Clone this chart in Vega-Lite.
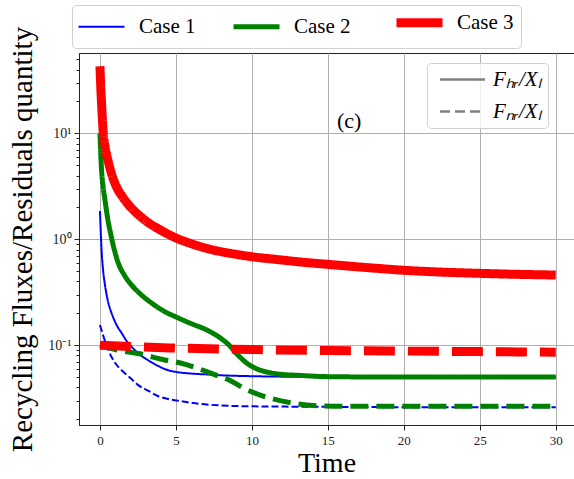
{
  "$schema": "https://vega.github.io/schema/vega-lite/v6.json",
  "autosize": {"type": "none"},
  "padding": {"left": 79, "top": 53, "right": 0, "bottom": 54},
  "width": 495,
  "height": 372,
  "background": "white",
  "config": {
    "view": {"stroke": "#222222", "strokeWidth": 1},
    "font": "Liberation Serif"
  },
  "datasets": {
    "curves": [
      {"case": "Case 1", "type": "HR", "series": "Case 1 HR", "t": 0, "v": 1.85},
      {"case": "Case 1", "type": "HR", "series": "Case 1 HR", "t": 0.1, "v": 0.82},
      {"case": "Case 1", "type": "HR", "series": "Case 1 HR", "t": 0.2, "v": 0.52},
      {"case": "Case 1", "type": "HR", "series": "Case 1 HR", "t": 0.33, "v": 0.37},
      {"case": "Case 1", "type": "HR", "series": "Case 1 HR", "t": 0.5, "v": 0.27},
      {"case": "Case 1", "type": "HR", "series": "Case 1 HR", "t": 0.77, "v": 0.2},
      {"case": "Case 1", "type": "HR", "series": "Case 1 HR", "t": 1.1, "v": 0.155},
      {"case": "Case 1", "type": "HR", "series": "Case 1 HR", "t": 1.43, "v": 0.13},
      {"case": "Case 1", "type": "HR", "series": "Case 1 HR", "t": 1.75, "v": 0.11},
      {"case": "Case 1", "type": "HR", "series": "Case 1 HR", "t": 2.08, "v": 0.097},
      {"case": "Case 1", "type": "HR", "series": "Case 1 HR", "t": 2.6, "v": 0.082},
      {"case": "Case 1", "type": "HR", "series": "Case 1 HR", "t": 3.18, "v": 0.072},
      {"case": "Case 1", "type": "HR", "series": "Case 1 HR", "t": 3.8, "v": 0.064},
      {"case": "Case 1", "type": "HR", "series": "Case 1 HR", "t": 4.5, "v": 0.058},
      {"case": "Case 1", "type": "HR", "series": "Case 1 HR", "t": 5, "v": 0.056},
      {"case": "Case 1", "type": "HR", "series": "Case 1 HR", "t": 6, "v": 0.054},
      {"case": "Case 1", "type": "HR", "series": "Case 1 HR", "t": 7, "v": 0.053},
      {"case": "Case 1", "type": "HR", "series": "Case 1 HR", "t": 8, "v": 0.052},
      {"case": "Case 1", "type": "HR", "series": "Case 1 HR", "t": 10, "v": 0.051},
      {"case": "Case 1", "type": "HR", "series": "Case 1 HR", "t": 12, "v": 0.0505},
      {"case": "Case 1", "type": "HR", "series": "Case 1 HR", "t": 15, "v": 0.05},
      {"case": "Case 1", "type": "HR", "series": "Case 1 HR", "t": 20, "v": 0.05},
      {"case": "Case 1", "type": "HR", "series": "Case 1 HR", "t": 25, "v": 0.05},
      {"case": "Case 1", "type": "HR", "series": "Case 1 HR", "t": 30, "v": 0.05},
      {"case": "Case 1", "type": "NR", "series": "Case 1 NR", "t": 0, "v": 0.155},
      {"case": "Case 1", "type": "NR", "series": "Case 1 NR", "t": 0.2, "v": 0.125},
      {"case": "Case 1", "type": "NR", "series": "Case 1 NR", "t": 0.55, "v": 0.09},
      {"case": "Case 1", "type": "NR", "series": "Case 1 NR", "t": 1, "v": 0.068},
      {"case": "Case 1", "type": "NR", "series": "Case 1 NR", "t": 1.43, "v": 0.058},
      {"case": "Case 1", "type": "NR", "series": "Case 1 NR", "t": 2, "v": 0.049},
      {"case": "Case 1", "type": "NR", "series": "Case 1 NR", "t": 2.52, "v": 0.042},
      {"case": "Case 1", "type": "NR", "series": "Case 1 NR", "t": 3.2, "v": 0.037},
      {"case": "Case 1", "type": "NR", "series": "Case 1 NR", "t": 3.84, "v": 0.033},
      {"case": "Case 1", "type": "NR", "series": "Case 1 NR", "t": 4.5, "v": 0.031},
      {"case": "Case 1", "type": "NR", "series": "Case 1 NR", "t": 5.4, "v": 0.0295},
      {"case": "Case 1", "type": "NR", "series": "Case 1 NR", "t": 6.5, "v": 0.028},
      {"case": "Case 1", "type": "NR", "series": "Case 1 NR", "t": 8, "v": 0.027},
      {"case": "Case 1", "type": "NR", "series": "Case 1 NR", "t": 10, "v": 0.0265},
      {"case": "Case 1", "type": "NR", "series": "Case 1 NR", "t": 15, "v": 0.0262},
      {"case": "Case 1", "type": "NR", "series": "Case 1 NR", "t": 20, "v": 0.026},
      {"case": "Case 1", "type": "NR", "series": "Case 1 NR", "t": 30, "v": 0.026},
      {"case": "Case 2", "type": "HR", "series": "Case 2 HR", "t": 0, "v": 10},
      {"case": "Case 2", "type": "HR", "series": "Case 2 HR", "t": 0.05, "v": 6.5},
      {"case": "Case 2", "type": "HR", "series": "Case 2 HR", "t": 0.11, "v": 4.4},
      {"case": "Case 2", "type": "HR", "series": "Case 2 HR", "t": 0.2, "v": 3.2},
      {"case": "Case 2", "type": "HR", "series": "Case 2 HR", "t": 0.33, "v": 2.35},
      {"case": "Case 2", "type": "HR", "series": "Case 2 HR", "t": 0.5, "v": 1.6},
      {"case": "Case 2", "type": "HR", "series": "Case 2 HR", "t": 0.75, "v": 1.05},
      {"case": "Case 2", "type": "HR", "series": "Case 2 HR", "t": 1.2, "v": 0.6},
      {"case": "Case 2", "type": "HR", "series": "Case 2 HR", "t": 1.6, "v": 0.46},
      {"case": "Case 2", "type": "HR", "series": "Case 2 HR", "t": 2.08, "v": 0.37},
      {"case": "Case 2", "type": "HR", "series": "Case 2 HR", "t": 2.6, "v": 0.31},
      {"case": "Case 2", "type": "HR", "series": "Case 2 HR", "t": 3.4, "v": 0.25},
      {"case": "Case 2", "type": "HR", "series": "Case 2 HR", "t": 4.2, "v": 0.21},
      {"case": "Case 2", "type": "HR", "series": "Case 2 HR", "t": 5, "v": 0.185},
      {"case": "Case 2", "type": "HR", "series": "Case 2 HR", "t": 6, "v": 0.16},
      {"case": "Case 2", "type": "HR", "series": "Case 2 HR", "t": 7, "v": 0.14},
      {"case": "Case 2", "type": "HR", "series": "Case 2 HR", "t": 7.5, "v": 0.128},
      {"case": "Case 2", "type": "HR", "series": "Case 2 HR", "t": 8, "v": 0.115},
      {"case": "Case 2", "type": "HR", "series": "Case 2 HR", "t": 8.5, "v": 0.1},
      {"case": "Case 2", "type": "HR", "series": "Case 2 HR", "t": 9, "v": 0.083},
      {"case": "Case 2", "type": "HR", "series": "Case 2 HR", "t": 9.65, "v": 0.068},
      {"case": "Case 2", "type": "HR", "series": "Case 2 HR", "t": 10.3, "v": 0.06},
      {"case": "Case 2", "type": "HR", "series": "Case 2 HR", "t": 11.2, "v": 0.055},
      {"case": "Case 2", "type": "HR", "series": "Case 2 HR", "t": 12, "v": 0.053},
      {"case": "Case 2", "type": "HR", "series": "Case 2 HR", "t": 13, "v": 0.052},
      {"case": "Case 2", "type": "HR", "series": "Case 2 HR", "t": 15, "v": 0.0505},
      {"case": "Case 2", "type": "HR", "series": "Case 2 HR", "t": 20, "v": 0.05},
      {"case": "Case 2", "type": "HR", "series": "Case 2 HR", "t": 25, "v": 0.05},
      {"case": "Case 2", "type": "HR", "series": "Case 2 HR", "t": 30, "v": 0.05},
      {"case": "Case 2", "type": "NR", "series": "Case 2 NR", "t": 0, "v": 0.1},
      {"case": "Case 2", "type": "NR", "series": "Case 2 NR", "t": 1, "v": 0.091},
      {"case": "Case 2", "type": "NR", "series": "Case 2 NR", "t": 2.6, "v": 0.083},
      {"case": "Case 2", "type": "NR", "series": "Case 2 NR", "t": 4.2, "v": 0.073},
      {"case": "Case 2", "type": "NR", "series": "Case 2 NR", "t": 5.3, "v": 0.068},
      {"case": "Case 2", "type": "NR", "series": "Case 2 NR", "t": 6.5, "v": 0.06},
      {"case": "Case 2", "type": "NR", "series": "Case 2 NR", "t": 7.5, "v": 0.053},
      {"case": "Case 2", "type": "NR", "series": "Case 2 NR", "t": 8.5, "v": 0.047},
      {"case": "Case 2", "type": "NR", "series": "Case 2 NR", "t": 9.5, "v": 0.039},
      {"case": "Case 2", "type": "NR", "series": "Case 2 NR", "t": 10.5, "v": 0.034},
      {"case": "Case 2", "type": "NR", "series": "Case 2 NR", "t": 11.85, "v": 0.03},
      {"case": "Case 2", "type": "NR", "series": "Case 2 NR", "t": 13, "v": 0.028},
      {"case": "Case 2", "type": "NR", "series": "Case 2 NR", "t": 14, "v": 0.027},
      {"case": "Case 2", "type": "NR", "series": "Case 2 NR", "t": 16, "v": 0.0265},
      {"case": "Case 2", "type": "NR", "series": "Case 2 NR", "t": 20, "v": 0.0265},
      {"case": "Case 2", "type": "NR", "series": "Case 2 NR", "t": 25, "v": 0.0265},
      {"case": "Case 2", "type": "NR", "series": "Case 2 NR", "t": 30, "v": 0.0265},
      {"case": "Case 3", "type": "HR", "series": "Case 3 HR", "t": 0, "v": 43},
      {"case": "Case 3", "type": "HR", "series": "Case 3 HR", "t": 0.05, "v": 28},
      {"case": "Case 3", "type": "HR", "series": "Case 3 HR", "t": 0.11, "v": 18.5},
      {"case": "Case 3", "type": "HR", "series": "Case 3 HR", "t": 0.22, "v": 10},
      {"case": "Case 3", "type": "HR", "series": "Case 3 HR", "t": 0.35, "v": 7.3},
      {"case": "Case 3", "type": "HR", "series": "Case 3 HR", "t": 0.55, "v": 5.4},
      {"case": "Case 3", "type": "HR", "series": "Case 3 HR", "t": 0.8, "v": 4.0},
      {"case": "Case 3", "type": "HR", "series": "Case 3 HR", "t": 1.1, "v": 3.1},
      {"case": "Case 3", "type": "HR", "series": "Case 3 HR", "t": 1.5, "v": 2.5},
      {"case": "Case 3", "type": "HR", "series": "Case 3 HR", "t": 1.9, "v": 2.1},
      {"case": "Case 3", "type": "HR", "series": "Case 3 HR", "t": 2.5, "v": 1.72},
      {"case": "Case 3", "type": "HR", "series": "Case 3 HR", "t": 3, "v": 1.5},
      {"case": "Case 3", "type": "HR", "series": "Case 3 HR", "t": 4, "v": 1.22},
      {"case": "Case 3", "type": "HR", "series": "Case 3 HR", "t": 5, "v": 1.03},
      {"case": "Case 3", "type": "HR", "series": "Case 3 HR", "t": 6, "v": 0.91},
      {"case": "Case 3", "type": "HR", "series": "Case 3 HR", "t": 7.5, "v": 0.79},
      {"case": "Case 3", "type": "HR", "series": "Case 3 HR", "t": 9, "v": 0.72},
      {"case": "Case 3", "type": "HR", "series": "Case 3 HR", "t": 10, "v": 0.685},
      {"case": "Case 3", "type": "HR", "series": "Case 3 HR", "t": 11.85, "v": 0.64},
      {"case": "Case 3", "type": "HR", "series": "Case 3 HR", "t": 13.5, "v": 0.605},
      {"case": "Case 3", "type": "HR", "series": "Case 3 HR", "t": 15, "v": 0.58},
      {"case": "Case 3", "type": "HR", "series": "Case 3 HR", "t": 18, "v": 0.535},
      {"case": "Case 3", "type": "HR", "series": "Case 3 HR", "t": 20, "v": 0.51},
      {"case": "Case 3", "type": "HR", "series": "Case 3 HR", "t": 22.5, "v": 0.49},
      {"case": "Case 3", "type": "HR", "series": "Case 3 HR", "t": 25, "v": 0.477},
      {"case": "Case 3", "type": "HR", "series": "Case 3 HR", "t": 27.5, "v": 0.467},
      {"case": "Case 3", "type": "HR", "series": "Case 3 HR", "t": 30, "v": 0.46},
      {"case": "Case 3", "type": "NR", "series": "Case 3 NR", "t": 0, "v": 0.1},
      {"case": "Case 3", "type": "NR", "series": "Case 3 NR", "t": 2, "v": 0.097},
      {"case": "Case 3", "type": "NR", "series": "Case 3 NR", "t": 5, "v": 0.094},
      {"case": "Case 3", "type": "NR", "series": "Case 3 NR", "t": 10, "v": 0.091},
      {"case": "Case 3", "type": "NR", "series": "Case 3 NR", "t": 15, "v": 0.089},
      {"case": "Case 3", "type": "NR", "series": "Case 3 NR", "t": 20, "v": 0.088},
      {"case": "Case 3", "type": "NR", "series": "Case 3 NR", "t": 25, "v": 0.087},
      {"case": "Case 3", "type": "NR", "series": "Case 3 NR", "t": 30, "v": 0.086}
    ],
    "note": [{"t": 16.4, "v": 13.1, "label": "(c)"}]
  },
  "encoding": {
    "x": {
      "field": "t", "type": "quantitative",
      "scale": {"domain": [-1.38, 31.2], "nice": false, "zero": false},
      "axis": {
        "title": "Time", "titleFont": "Liberation Serif", "titleFontSize": 28, "titleFontWeight": "normal", "titleColor": "#000000", "titlePadding": 2,
        "values": [0, 5, 10, 15, 20, 25, 30],
        "labelFont": "Liberation Serif", "labelFontSize": 13, "labelColor": "#222222", "labelPadding": 4,
        "grid": true, "gridColor": "#b0b0b0", "gridWidth": 1,
        "domainColor": "#222222", "tickColor": "#222222", "tickSize": 5
      }
    },
    "y": {
      "field": "v", "type": "quantitative",
      "scale": {"type": "log", "domain": [0.01765, 57.4], "nice": false},
      "axis": {
        "title": "Recycling Fluxes/Residuals quantity", "titleFont": "Liberation Serif", "titleFontSize": 29, "titleFontWeight": "normal", "titleColor": "#000000", "titlePadding": 10,
        "values": [0.02, 0.03, 0.04, 0.05, 0.06, 0.07, 0.08, 0.09, 0.1, 0.2, 0.3, 0.4, 0.5, 0.6, 0.7, 0.8, 0.9, 1, 2, 3, 4, 5, 6, 7, 8, 9, 10, 20, 30, 40, 50],
        "labelExpr": "datum.value == 10 ? '10¹' : datum.value == 1 ? '10⁰' : datum.value == 0.1 ? '10⁻¹' : ''",
        "labelFont": "Liberation Serif", "labelFontSize": 14, "labelColor": "#222222", "labelPadding": 3,
        "grid": true, "gridColor": "#b0b0b0", "gridWidth": 1,
        "gridOpacity": {"condition": {"test": "datum.value == 10 || datum.value == 1 || datum.value == 0.1", "value": 1}, "value": 0},
        "tickSize": {"condition": {"test": "datum.value == 10 || datum.value == 1 || datum.value == 0.1", "value": 5}, "value": 3},
        "domainColor": "#222222", "tickColor": "#222222", "labelOverlap": false
      }
    },
    "color": {
      "field": "case", "type": "nominal",
      "scale": {"domain": ["Case 1", "Case 2", "Case 3"], "range": ["#0000ff", "#008000", "#ff0000"]},
      "legend": {
        "title": null, "orient": "none", "legendX": -7, "legendY": -48, "direction": "horizontal",
        "symbolType": "M-23,0L23,0", "symbolSize": 4, "symbolOffset": 12, "symbolStrokeWidth": 5,
        "labelFont": "Liberation Serif", "labelFontSize": 21, "labelColor": "#000000", "labelOffset": 27,
        "columnPadding": 27, "padding": 7,
        "fillColor": "#ffffff", "strokeColor": "#d0d0d0", "cornerRadius": 4,
        "encode": {"symbols": {"update": {"strokeWidth": {"signal": "datum.value === 'Case 1' ? 2 : datum.value === 'Case 2' ? 5 : 9"}}}}
      }
    },
    "strokeDash": {
      "field": "series", "type": "nominal",
      "scale": {
        "domain": ["HR", "NR", "Case 1 HR", "Case 1 NR", "Case 2 HR", "Case 2 NR", "Case 3 HR", "Case 3 NR"],
        "range": [[1, 0], [10, 5], [1, 0], [7, 3], [1, 0], [18, 8], [1, 0], [31, 13]]
      },
      "legend": {
        "title": null, "orient": "none", "legendX": 348, "legendY": 10, "direction": "vertical",
        "values": ["HR", "NR"],
        "labelExpr": "datum.value == 'HR' ? 'Fₕᵣ/Xₗ' : 'Fₙᵣ/Xₗ'",
        "symbolType": "M-22.5,0L22.5,0", "symbolSize": 4, "symbolOffset": 19, "symbolStrokeColor": "#808080", "symbolStrokeWidth": 2.5,
        "labelFont": "Liberation Serif", "labelFontSize": 21, "labelFontStyle": "italic", "labelColor": "#000000", "labelOffset": 20,
        "rowPadding": 10, "padding": 6,
        "fillColor": "rgba(255,255,255,0.8)", "strokeColor": "#d0d0d0", "cornerRadius": 4
      }
    },
    "detail": {"field": "series"}
  },
  "layer": [
    {
      "data": {"name": "curves"},
      "transform": [{"filter": "datum.case === 'Case 1'"}],
      "mark": {"type": "line", "interpolate": "monotone", "strokeCap": "butt", "clip": true, "strokeWidth": 2}
    },
    {
      "data": {"name": "curves"},
      "transform": [{"filter": "datum.case === 'Case 2'"}],
      "mark": {"type": "line", "interpolate": "monotone", "strokeCap": "butt", "clip": true, "strokeWidth": 5}
    },
    {
      "data": {"name": "curves"},
      "transform": [{"filter": "datum.case === 'Case 3'"}],
      "mark": {"type": "line", "interpolate": "monotone", "strokeCap": "butt", "clip": true, "strokeWidth": 9}
    },
    {
      "data": {"name": "note"},
      "mark": {"type": "text", "font": "Liberation Serif", "fontSize": 22, "color": "#000000", "align": "center", "baseline": "middle"},
      "encoding": {
        "x": {"field": "t", "type": "quantitative"},
        "y": {"field": "v", "type": "quantitative"},
        "text": {"field": "label"},
        "color": {"value": "#000000"},
        "strokeDash": {"value": null},
        "detail": {"value": null}
      }
    }
  ]
}
